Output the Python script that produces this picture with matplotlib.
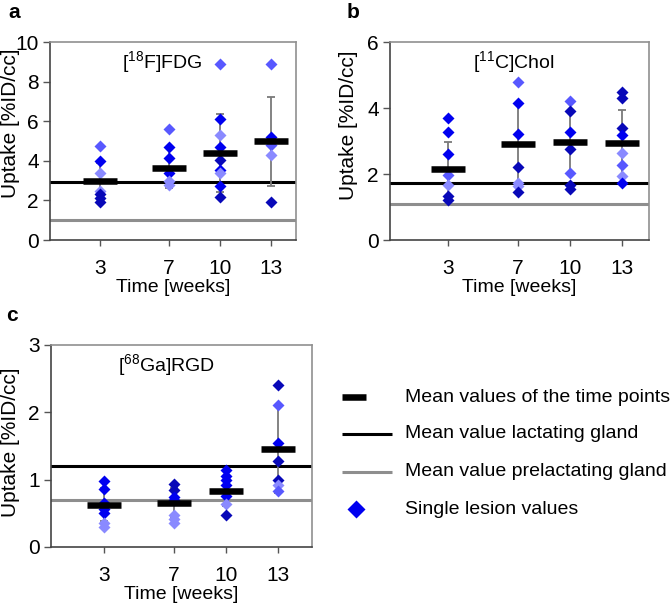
import matplotlib
matplotlib.use("Agg")
import matplotlib.pyplot as plt

plt.rcParams['font.family'] = ['Liberation Sans', 'DejaVu Sans']
plt.rcParams['mathtext.fontset'] = 'custom'
plt.rcParams['mathtext.rm'] = 'Liberation Sans'

# ---------------- data ----------------
weeks = [3, 7, 10, 13]
week_labels = ['3', '7', '10', '13']

# shade codes: D = dark, B = blue, M = medium, L = light
shade_colors = {'D': '#0808B8', 'B': '#0000F0', 'M': '#5858FF', 'L': '#8A8AFF'}

# panel a: [18F]FDG
fdg_points = {
    3: [(4.76, 'M'), (4.0, 'B'), (3.37, 'L'), (2.5, 'L'), (2.3, 'D'), (2.1, 'D'), (1.92, 'D')],
    7: [(5.62, 'M'), (4.71, 'B'), (4.14, 'B'), (3.37, 'B'), (2.98, 'L'), (2.8, 'L')],
    10: [(8.9, 'M'), (6.1, 'B'), (5.3, 'L'), (4.72, 'B'), (4.04, 'D'), (3.55, 'B'), (3.37, 'L'), (2.74, 'B'), (2.17, 'D')],
    13: [(8.88, 'M'), (5.2, 'B'), (4.8, 'M'), (4.28, 'L'), (1.92, 'D')],
}
fdg_mean = [3.0, 3.64, 4.41, 4.99]
fdg_sd = [0.9, 1.0, 1.97, 2.25]
fdg_lact = 2.94
fdg_prelact = 0.99

# panel b: [11C]Chol
chol_points = {
    3: [(3.69, 'B'), (3.28, 'B'), (2.6, 'B'), (1.97, 'M'), (1.66, 'L'), (1.33, 'D'), (1.22, 'D')],
    7: [(4.8, 'M'), (4.14, 'B'), (3.22, 'B'), (2.22, 'D'), (1.74, 'L'), (1.64, 'L'), (1.45, 'D')],
    10: [(4.22, 'M'), (3.9, 'D'), (3.27, 'B'), (2.75, 'D'), (2.02, 'M'), (1.67, 'D'), (1.56, 'D')],
    13: [(4.48, 'D'), (4.3, 'D'), (3.38, 'D'), (3.18, 'B'), (2.65, 'L'), (2.27, 'M'), (1.93, 'L'), (1.74, 'B')],
}
chol_mean = [2.14, 2.92, 2.97, 2.93]
chol_sd = [0.82, 1.2, 0.95, 1.01]
chol_lact = 1.72
chol_prelact = 1.1

# panel c: [68Ga]RGD
rgd_points = {
    3: [(0.98, 'B'), (0.86, 'B'), (0.66, 'B'), (0.57, 'B'), (0.5, 'B'), (0.35, 'L'), (0.29, 'L')],
    7: [(0.93, 'D'), (0.84, 'D'), (0.75, 'B'), (0.7, 'B'), (0.47, 'L'), (0.42, 'L'), (0.35, 'L')],
    10: [(1.15, 'B'), (1.06, 'B'), (0.99, 'B'), (0.92, 'B'), (0.76, 'B'), (0.64, 'L'), (0.47, 'D')],
    13: [(2.41, 'D'), (2.11, 'M'), (1.55, 'B'), (1.28, 'D'), (0.99, 'D'), (0.92, 'L'), (0.83, 'M')],
}
rgd_mean = [0.63, 0.65, 0.83, 1.45]
rgd_sd = [0.25, 0.22, 0.22, 0.65]
rgd_lact = 1.2
rgd_prelact = 0.7

legend_labels = ['Mean values of the time points', 'Mean value lactating gland',
                 'Mean value prelactating gland', 'Single lesion values']

FS = 14
W, H = 672, 604
fig = plt.figure(figsize=(W / 100, H / 100), dpi=100)


def px_axes(l, t, r, b):
    return fig.add_axes([l / W, 1 - b / H, (r - l) / W, (b - t) / H])


def panel(ax, points, means, sds, lact, prelact, xlim, ylim, yticks, title, title_x,
          label_x, label_y):
    ax.set_xlim(*xlim)
    ax.set_ylim(*ylim)
    ax.axhline(prelact, color='#8E8E8E', lw=2.2, zorder=1)
    ax.axhline(lact, color='black', lw=2.2, zorder=1.1)
    ax.errorbar(weeks, means, yerr=sds, fmt='none', ecolor='#7A7A7A', elinewidth=1.3,
                capsize=3, capthick=1.3, zorder=2)
    for w in weeks:
        for v, s in points[w]:
            ax.plot([w], [v], marker='D', ms=6.2, color=shade_colors[s], mec='none',
                    ls='none', zorder=3)
    ax.plot(weeks, means, marker='_', ms=24, mew=4.7, color='black', ls='none', zorder=4)
    ax.set_xticks(weeks)
    ax.set_xticklabels(week_labels)
    ax.set_yticks(yticks)
    ax.tick_params(axis='x', direction='out', length=4.5, width=1, color='#555555', pad=9,
                   labelsize=FS + 1)
    ax.tick_params(axis='y', direction='out', length=5, width=1, color='#555555', pad=3,
                   labelsize=FS + 1)
    ax.set_xlabel('Time [weeks]', fontsize=FS, labelpad=1)
    ax.set_ylabel('Uptake [%ID/cc]', fontsize=15)
    ax.yaxis.set_label_coords(label_x, label_y)
    for side in ['left', 'bottom']:
        ax.spines[side].set_color('#444444')
        ax.spines[side].set_linewidth(1.2)
    for side in ['top', 'right']:
        ax.spines[side].set_color('#909090')
        ax.spines[side].set_linewidth(1.2)
    ax.text(title_x, 0.9, title, transform=ax.transAxes, fontsize=FS, ha='left', va='center')


ax_a = px_axes(50, 42, 296, 240)
panel(ax_a, fdg_points, fdg_mean, fdg_sd, fdg_lact, fdg_prelact, (0.08, 14.43), (0, 10),
      [0, 2, 4, 6, 8, 10], r'[$\mathregular{^{18}}$F]FDG', 0.293, -0.122, 0.59)

ax_b = px_axes(390, 42, 649, 240)
panel(ax_b, chol_points, chol_mean, chol_sd, chol_lact, chol_prelact, (-0.33, 14.55), (0, 6),
      [0, 2, 4, 6], r'[$\mathregular{^{11}}$C]Chol', 0.32, -0.124, 0.578)

ax_c = px_axes(51, 345, 312, 547)
panel(ax_c, rgd_points, rgd_mean, rgd_sd, rgd_lact, rgd_prelact, (-0.05, 14.95), (0, 3),
      [0, 1, 2, 3], r'[$\mathregular{^{68}}$Ga]RGD', 0.257, -0.12, 0.52)

# panel letters
fig.text(8 / W, 1 - 13 / H, 'a', fontsize=15, fontweight='bold', va='center', ha='left')
fig.text(347 / W, 1 - 13 / H, 'b', fontsize=15, fontweight='bold', va='center', ha='left')
fig.text(6 / W, 1 - 315 / H, 'c', fontsize=15, fontweight='bold', va='center', ha='left')

# legend (drawn in an overlay axes in pixel coordinates)
lg = fig.add_axes([0, 0, 1, 1], facecolor='none')
lg.set_xlim(0, W)
lg.set_ylim(H, 0)
lg.axis('off')
rows = [397, 434, 472, 509]
lg.plot([342, 366], [rows[0], rows[0]], color='black', lw=4.7, solid_capstyle='butt')
lg.plot([342, 392], [rows[1], rows[1]], color='black', lw=2.2, solid_capstyle='butt')
lg.plot([342, 392], [rows[2], rows[2]], color='#8E8E8E', lw=2.2, solid_capstyle='butt')
lg.plot([356], [rows[3]], marker='D', ms=9, color='#0000F0', mec='none', ls='none')
for y, t in zip(rows, legend_labels):
    lg.text(405, y, t, fontsize=FS, ha='left', va='center')

fig.savefig('out.png', dpi=100)
